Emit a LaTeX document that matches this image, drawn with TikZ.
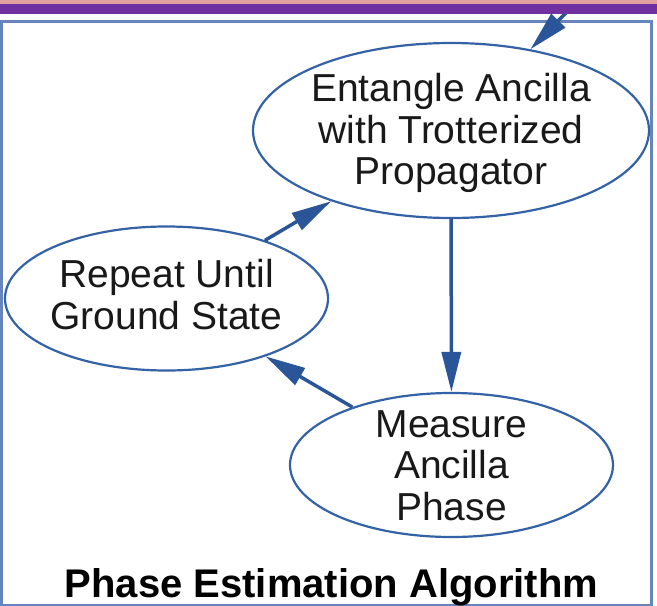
\documentclass[tikz,border=0pt]{standalone}
\usepackage{fontspec}
\setmainfont{Liberation Sans}
\usetikzlibrary{shapes.geometric,arrows.meta}
\definecolor{ellblue}{HTML}{3462A6}
\definecolor{arrblue}{HTML}{2A5598}
\definecolor{frameblue}{HTML}{6585BC}
\definecolor{bandpurple}{HTML}{7030A0}
\definecolor{pinkline}{HTML}{E3A0A0}
\begin{document}
\begin{tikzpicture}[x=1pt,y=-1pt,
  ell/.style={ellipse, draw=ellblue, line width=2.2pt, inner sep=0pt},
  txt/.style={align=center, inner sep=0pt, text=black!90,
    font=\fontsize{39}{41.5}\selectfont},
  conn/.style={draw=arrblue, line width=3.5pt, -{Triangle[length=40pt,width=19pt]}},
  titlefont/.style={font=\bfseries\fontsize{40}{44}\selectfont}]
\useasboundingbox (0,0) rectangle (657,606);
\clip (0,0) rectangle (657,606);
\fill[white] (0,0) rectangle (657,606);
% frame
\draw[frameblue, line width=3pt] (1,21.5) rectangle (651.5,605);
% nodes
\node[ell, minimum width=396pt, minimum height=175pt] (ent) at (451,130.5) {};
\node[txt] (entT) at (451,133) {Entangle Ancilla\\with Trotterized\\Propagator};
\node[ell, minimum width=323pt, minimum height=144pt] (rep) at (166.5,298.5) {};
\node[txt] (repT) at (166.5,294.5) {Repeat Until\\Ground State};
\node[ell, minimum width=323pt, minimum height=144pt] (mea) at (451.5,465) {};
\node[txt] (meaT) at (451.5,465.5) {Measure\\Ancilla\\Phase};
\node[titlefont, anchor=base] (title) at (331.5,597) {Phase Estimation Algorithm};
% connectors
\coordinate (src) at (600,-22);
\draw[conn] (src) -- (ent);
\draw[conn] (ent) -- (mea);
\draw[conn] (rep) -- (ent);
\draw[conn] (mea) -- (rep);
% top band
\fill[pinkline] (0,0) rectangle (657,4);
\fill[bandpurple] (0,4.3) rectangle (657,14.3);
\end{tikzpicture}
\end{document}
